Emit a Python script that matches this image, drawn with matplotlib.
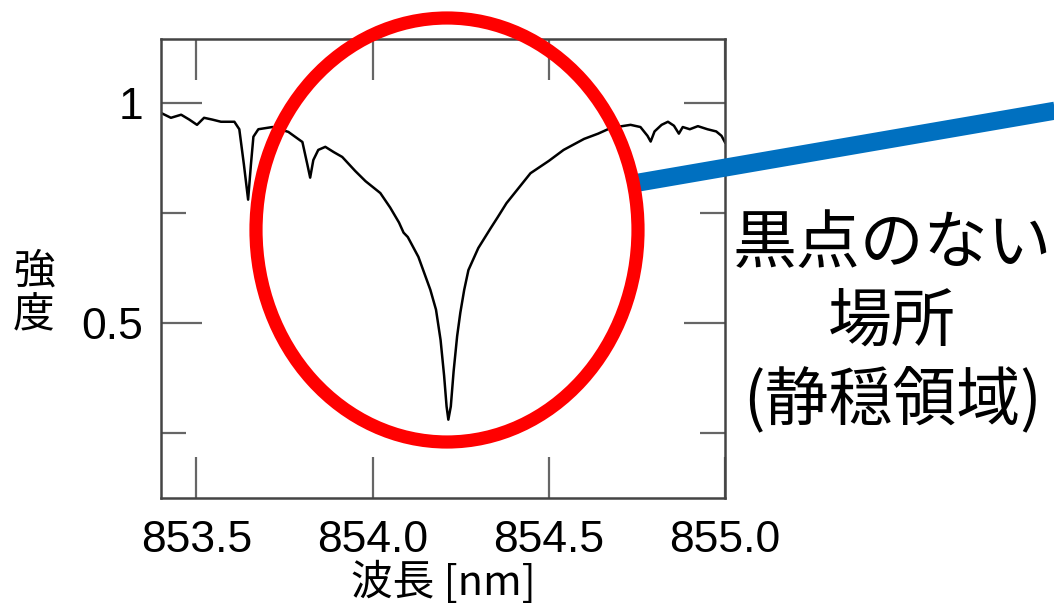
import matplotlib.pyplot as plt
from matplotlib.patches import Ellipse
from matplotlib.lines import Line2D

# Ca II 854.2 nm profile, quiet region
wavelength = [853.400, 853.428, 853.457, 853.480, 853.502, 853.522, 853.545, 853.570,
              853.608, 853.622, 853.635, 853.647, 853.655, 853.662, 853.676, 853.716,
              853.761, 853.801, 853.815, 853.823, 853.832, 853.846, 853.866, 853.890,
              853.914, 853.951, 853.980, 854.022, 854.050, 854.075, 854.088, 854.100,
              854.130, 854.164, 854.180, 854.193, 854.203, 854.210, 854.215, 854.222,
              854.230, 854.240, 854.249, 854.260, 854.272, 854.300, 854.335, 854.355,
              854.380, 854.410, 854.448, 854.500, 854.542, 854.600, 854.640, 854.676,
              854.732, 854.760, 854.780, 854.789, 854.800, 854.820, 854.838, 854.855,
              854.869, 854.880, 854.900, 854.923, 854.950, 854.975, 854.990, 855.000]
intensity = [0.977, 0.966, 0.973, 0.962, 0.950, 0.966, 0.962, 0.957,
             0.957, 0.940, 0.860, 0.780, 0.860, 0.923, 0.940, 0.945,
             0.934, 0.911, 0.860, 0.830, 0.870, 0.893, 0.900, 0.888,
             0.877, 0.845, 0.822, 0.795, 0.762, 0.728, 0.705, 0.695,
             0.650, 0.575, 0.530, 0.461, 0.380, 0.310, 0.280, 0.310,
             0.390, 0.470, 0.523, 0.575, 0.620, 0.670, 0.715, 0.740,
             0.772, 0.802, 0.840, 0.868, 0.893, 0.918, 0.930, 0.943,
             0.950, 0.945, 0.925, 0.912, 0.935, 0.950, 0.957, 0.948,
             0.930, 0.945, 0.940, 0.947, 0.940, 0.935, 0.925, 0.910]

xticks = [853.5, 854.0, 854.5, 855.0]
xticklabels = ["853.5", "854.0", "854.5", "855.0"]
yticks = [0.5, 1.0]
yticklabels = ["0.5", "1"]
yminor = [0.25, 0.75]

cjk = ['Noto Sans CJK JP', 'DejaVu Sans']

fig = plt.figure(figsize=(10.54, 6.07), dpi=100)
ax = fig.add_axes([0.1528, 0.1796, 0.5351, 0.7561])

ax.plot(wavelength, intensity, color='black', lw=1.8)
ax.set_xlim(853.4, 855.0)
ax.set_ylim(0.102, 1.145)

ax.set_xticks(xticks)
ax.set_xticklabels(xticklabels, family='Liberation Sans', fontsize=32)
ax.set_yticks(yticks)
ax.set_yticklabels(yticklabels, family='Liberation Sans', fontsize=32)
ax.set_yticks(yminor, minor=True)

ax.tick_params(which='both', direction='in', top=True, right=True, color='#666666', width=1.6)
ax.tick_params(which='major', length=29.5)
ax.tick_params(which='minor', length=18)
ax.tick_params(axis='x', pad=16)
ax.tick_params(axis='y', pad=13)

for s in ax.spines.values():
    s.set_color('#444444')
    s.set_linewidth(1.8)

ax.set_xlabel("波長 [nm]", family=cjk, fontsize=30, labelpad=0)
fig.text(34 / 1054, 1 - 294 / 607, "強\n度", family=cjk, fontsize=30,
         ha='center', va='center', linespacing=1.1)

fig.text(892 / 1054, 1 - 323 / 607, "黒点のない\n場所\n(静穏領域)", family=cjk,
         fontsize=46, ha='center', va='center', linespacing=1.22)

# blue pointer and red circle
fig.add_artist(Line2D([636 / 1054, 1.01], [1 - 183 / 607, 1 - 109 / 607],
                      transform=fig.transFigure, color='#0070C0', lw=13,
                      solid_capstyle='butt', zorder=5))
fig.add_artist(Ellipse((447 / 1054, 1 - 230 / 607), 2 * 191 / 1054, 2 * 212 / 607,
                       transform=fig.transFigure, fill=False, edgecolor='#FF0000',
                       lw=9.5, zorder=6))

fig.savefig("out.png", dpi=100)
